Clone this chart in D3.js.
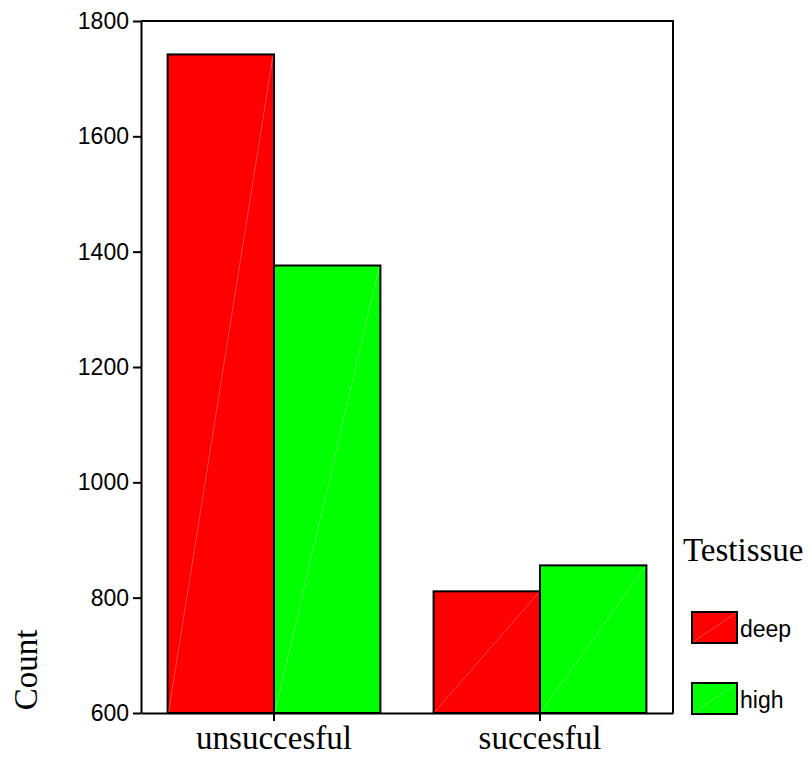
<!DOCTYPE html>
<html>
<head>
<meta charset="utf-8">
<script src="https://cdn.jsdelivr.net/npm/d3@7"></script>
<style>
  body { margin: 0; background: #fff; }
  svg { display: block; }
</style>
</head>
<body>
<div id="chart"></div>
<script>
// Chart data
const categories = ["unsuccesful", "succesful"];
const seriesNames = ["deep", "high"];
const deepValues = [1742, 811];
const highValues = [1376, 856];
const yTicks = [600, 800, 1000, 1200, 1400, 1600, 1800];
const seriesColors = ["#ff0000", "#00ff00"];

const width = 812, height = 757;
const margin = { top: 21, right: 139, bottom: 44, left: 141 };
const plotW = width - margin.left - margin.right;
const plotH = height - margin.top - margin.bottom;

const sansFont = "Liberation Sans, Arial, sans-serif";
const serifFont = "Liberation Serif, Times New Roman, serif";

const svg = d3.select("#chart").append("svg")
    .attr("width", width)
    .attr("height", height);

const g = svg.append("g")
    .attr("transform", `translate(${margin.left},${margin.top})`);

// Scales
const x = d3.scaleBand()
    .domain(categories)
    .range([0, plotW])
    .paddingInner(0)
    .paddingOuter(0);

const xSub = d3.scaleBand()
    .domain(seriesNames)
    .range([0, x.bandwidth()])
    .paddingInner(0)
    .paddingOuter(0.25);

const y = d3.scaleLinear()
    .domain([600, 1800])
    .range([plotH, 0]);

const color = d3.scaleOrdinal()
    .domain(seriesNames)
    .range(seriesColors);

// Build rows from named arrays
const rows = [];
categories.forEach((c, i) => {
    rows.push({ cat: c, series: "deep", value: deepValues[i] });
    rows.push({ cat: c, series: "high", value: highValues[i] });
});

// Bars
const bars = g.selectAll(".bar")
    .data(rows)
    .enter()
    .append("g")
    .attr("class", "bar");

bars.append("rect")
    .attr("x", d => x(d.cat) + xSub(d.series))
    .attr("y", d => y(d.value))
    .attr("width", xSub.bandwidth())
    .attr("height", d => plotH - y(d.value))
    .attr("fill", d => color(d.series))
    .attr("stroke", "#000")
    .attr("stroke-width", 2);

// faint diagonal seams
bars.append("line")
    .attr("x1", d => x(d.cat) + xSub(d.series) + 1)
    .attr("y1", plotH - 1)
    .attr("x2", d => x(d.cat) + xSub(d.series) + xSub.bandwidth() - 1)
    .attr("y2", d => y(d.value) + 1)
    .attr("stroke", "#fff")
    .attr("stroke-opacity", 0.35)
    .attr("stroke-width", 0.8);

// Frame (top and right)
g.append("path")
    .attr("d", `M0,0H${plotW}V${plotH}`)
    .attr("fill", "none")
    .attr("stroke", "#000")
    .attr("stroke-width", 2);

// Y axis
const yAxis = g.append("g")
    .call(d3.axisLeft(y).tickValues(yTicks).tickFormat(d3.format("d"))
        .tickSize(8).tickPadding(4).tickSizeOuter(0));
yAxis.select(".domain").attr("stroke-width", 2);
yAxis.selectAll(".tick line").attr("stroke-width", 2);
yAxis.selectAll("text")
    .style("font-family", sansFont)
    .style("font-size", "23px")
    .attr("fill", "#000");

// X axis
const xAxis = g.append("g")
    .attr("transform", `translate(0,${plotH})`)
    .call(d3.axisBottom(x).tickSize(8).tickPadding(6).tickSizeOuter(0));
xAxis.select(".domain").attr("stroke-width", 2);
xAxis.selectAll(".tick line").attr("stroke-width", 2);
xAxis.selectAll("text")
    .attr("dy", null)
    .attr("y", 36)
    .style("font-family", serifFont)
    .style("font-size", "33px")
    .attr("fill", "#000");

// Y axis label
svg.append("text")
    .attr("transform", "translate(37,670) rotate(-90)")
    .attr("text-anchor", "middle")
    .style("font-family", serifFont)
    .style("font-size", "33px")
    .text("Count");

// Legend
const legend = svg.append("g")
    .attr("transform", "translate(683,0)");

legend.append("text")
    .attr("x", 0)
    .attr("y", 561)
    .style("font-family", serifFont)
    .style("font-size", "33px")
    .text("Testissue");

const legendY = [612, 683];
seriesNames.forEach((s, i) => {
    const lg = legend.append("g")
        .attr("transform", `translate(9,${legendY[i]})`);
    lg.append("rect")
        .attr("width", 45)
        .attr("height", 31)
        .attr("fill", color(s))
        .attr("stroke", "#000")
        .attr("stroke-width", 2);
    lg.append("line")
        .attr("x1", 1).attr("y1", 30)
        .attr("x2", 44).attr("y2", 1)
        .attr("stroke", "#fff")
        .attr("stroke-opacity", 0.35)
        .attr("stroke-width", 0.8);
    lg.append("text")
        .attr("x", 48)
        .attr("y", 25)
        .style("font-family", sansFont)
        .style("font-size", "23px")
        .text(s);
});
</script>
</body>
</html>
